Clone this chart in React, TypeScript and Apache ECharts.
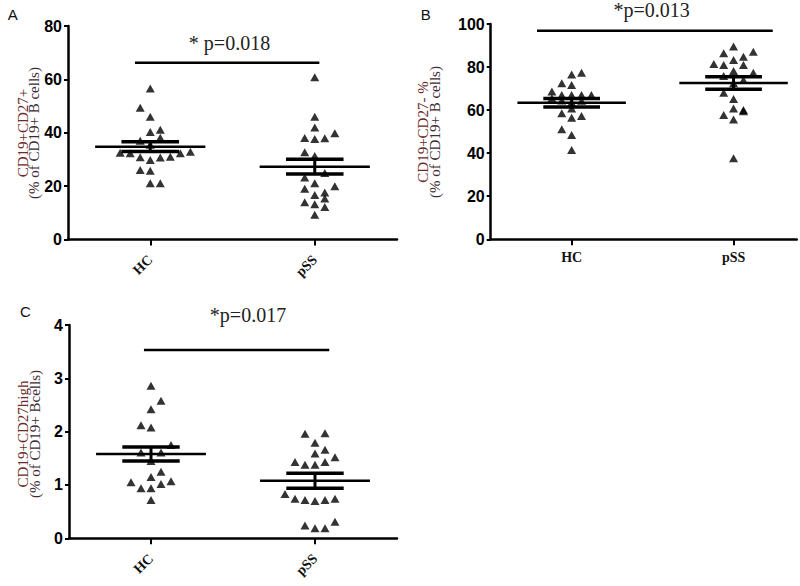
import React, { useEffect, useRef } from "react";
import * as echarts from "echarts";

// ---------- data ----------
const GROUPS = ["HC", "pSS"];

// [column index of the dot (horizontal jitter step), value]
const A_HC: [number, number][] = [
  [0, 56.6], [-1, 49.4], [0, 46.0], [0, 40.3], [1, 41.1], [1, 38.1], [-1, 37.0], [0, 35.5],
  [-3, 32.5], [-2, 32.3], [-1, 30.8], [0, 29.8], [1, 30.7], [2, 31.0], [3, 32.3], [4, 32.9],
  [-1, 26.0], [0, 25.8], [0, 21.1], [1, 21.1],
];
const A_PSS: [number, number][] = [
  [0, 60.8], [0, 46.0], [0, 42.0], [-1, 38.0], [0, 37.7], [1, 37.9], [2, 39.8], [-1, 32.7],
  [0, 31.3], [1, 24.9], [-1, 23.2], [0, 21.1], [2, 20.0], [-1, 19.0], [0, 16.7], [1, 17.6],
  [1, 15.4], [-1, 14.0], [0, 13.2], [1, 12.2], [0, 9.3],
];
const B_HC: [number, number][] = [
  [1, 77.4], [0, 76.6], [-1, 72.5], [0, 71.7], [-2, 68.6], [-1, 67.0], [0, 67.0], [1, 67.0],
  [2, 67.0], [-2, 65.5], [-1, 64.5], [0, 63.5], [1, 64.4], [0, 60.8], [-1, 58.5], [0, 56.5],
  [1, 57.3], [-1, 51.1], [0, 48.4], [0, 41.5],
];
const B_PSS: [number, number][] = [
  [0, 89.5], [2, 87.1], [-1, 86.4], [1, 84.8], [0, 83.3], [-2, 81.4], [-1, 81.0], [1, 81.0],
  [0, 78.2], [2, 77.4], [-1, 75.8], [1, 74.0], [0, 72.5], [-1, 68.1], [0, 65.2], [0, 60.8],
  [1, 60.1], [1, 59.5], [-1, 57.7], [0, 55.7], [0, 37.6],
];
const C_HC: [number, number][] = [
  [0, 2.86], [1, 2.58], [0, 2.42], [-1, 2.12], [0, 2.08], [2, 1.75], [-1, 1.61], [1, 1.61],
  [0, 1.45], [1, 1.25], [0, 1.15], [-2, 1.05], [2, 1.07], [1, 1.02], [-1, 0.94], [0, 0.94],
  [0, 0.72],
];
const C_PSS: [number, number][] = [
  [-1, 1.96], [1, 1.97], [0, 1.79], [1, 1.66], [0, 1.59], [2, 1.52], [-2, 1.43], [-1, 1.38],
  [0, 1.38], [1, 1.43], [-3, 0.83], [-2, 0.74], [-1, 0.72], [0, 0.70], [1, 0.72], [2, 0.74],
  [-1, 0.24], [0, 0.19], [1, 0.19], [2, 0.31],
];

// [group position, mean, sem]
const A_MEAN: [number, number, number][] = [[1, 34.8, 1.8], [2, 27.3, 2.8]];
const B_MEAN: [number, number, number][] = [[1, 63.4, 2.0], [2, 72.6, 2.9]];
const C_MEAN: [number, number, number][] = [[1, 1.58, 0.13], [2, 1.08, 0.14]];

// significance bar: [x start, x end, y]
const A_SIG: [number, number, number][] = [[0.907, 2.028, 66.2]];
const B_SIG: [number, number, number][] = [[0.786, 2.242, 96.9]];
const C_SIG: [number, number, number][] = [[0.957, 2.087, 3.53]];

const P_TEXTS = ["* p=0.018", "*p=0.013", "*p=0.017"];
const PANEL_LETTERS = ["A", "B", "C"];
const Y_TITLES: [string, string][] = [
  ["CD19+CD27+", "(% of CD19+ B cells)"],
  ["CD19+CD27- %", "(% of CD19+ B cells)"],
  ["CD19+CD27high", "(% of CD19+ Bcells)"],
];
const Y_TICKS_A = [0, 20, 40, 60, 80];
const Y_TICKS_B = [0, 20, 40, 60, 80, 100];
const Y_TICKS_C = [0, 1, 2, 3, 4];

// ---------- layout ----------
const JITTER = 0.061;
const MEAN_HALF = 0.335;
const SEM_HALF = 0.175;

const SERIF = '"Liberation Serif", "Times New Roman", serif';
const SANS = '"Liberation Sans", Arial, sans-serif';

export default function App() {
  const ref = useRef<HTMLDivElement>(null);

  useEffect(() => {
    if (!ref.current) return;
    const chart = echarts.init(ref.current, undefined, { renderer: "svg" });

    const grids = [
      { left: 68, top: 26, width: 329, height: 213.5 },
      { left: 490.7, top: 24, width: 306, height: 215.3 },
      { left: 69, top: 325, width: 328, height: 213.3 },
    ];
    const xMax = [2.5, 2.39, 2.5];
    const yTicks = [Y_TICKS_A, Y_TICKS_B, Y_TICKS_C];
    const points = [
      [A_HC, A_PSS],
      [B_HC, B_PSS],
      [C_HC, C_PSS],
    ];
    const means = [A_MEAN, B_MEAN, C_MEAN];
    const sigs = [A_SIG, B_SIG, C_SIG];

    const xAxis = grids.map((_, i) => ({
      gridIndex: i,
      type: "value",
      min: 0.5,
      max: xMax[i],
      axisLine: { show: true, onZero: false, lineStyle: { color: "#000", width: 2.5 } },
      axisTick: {
        show: true,
        customValues: [1, 2],
        length: 6,
        lineStyle: { color: "#000", width: 2 },
      },
      axisLabel: {
        customValues: [1, 2],
        formatter: (v: number) => GROUPS[Math.round(v) - 1] ?? "",
        rotate: i === 1 ? 0 : 45,
        margin: i === 1 ? 11 : 18,
        fontFamily: SERIF,
        fontWeight: "bold",
        fontSize: 14,
        color: "#111",
      },
      splitLine: { show: false },
    }));

    const yAxis = grids.map((_, i) => {
      const t = yTicks[i];
      return {
        gridIndex: i,
        type: "value",
        min: t[0],
        max: t[t.length - 1],
        interval: t[1] - t[0],
        axisLine: { show: true, onZero: false, lineStyle: { color: "#000", width: 2.5 } },
        axisTick: { show: true, length: 4, lineStyle: { color: "#000", width: 2 } },
        axisLabel: {
          margin: 6,
          fontFamily: SANS,
          fontWeight: "bold",
          fontSize: 16,
          color: "#000",
        },
        splitLine: { show: false },
      };
    });

    const series: any[] = [];
    points.forEach((grp, i) => {
      grp.forEach((pts, g) => {
        series.push({
          type: "scatter",
          xAxisIndex: i,
          yAxisIndex: i,
          symbol: "triangle",
          symbolSize: [9, 8],
          itemStyle: { color: "#000" },
          data: pts.map(([col, v]) => [g + 1 + col * JITTER, v]),
          z: 2,
        });
      });
      series.push({
        type: "custom",
        xAxisIndex: i,
        yAxisIndex: i,
        encode: { x: 0, y: 1 },
        z: 3,
        data: means[i],
        renderItem: (_p: any, api: any) => {
          const x = api.value(0);
          const m = api.value(1);
          const s = api.value(2);
          const c = (a: number, b: number) => api.coord([a, b]);
          const mk = (a: number[], b: number[], w: number) => ({
            type: "line",
            shape: { x1: a[0], y1: a[1], x2: b[0], y2: b[1] },
            style: { stroke: "#000", lineWidth: w },
          });
          return {
            type: "group",
            children: [
              mk(c(x - MEAN_HALF, m), c(x + MEAN_HALF, m), 2.5),
              mk(c(x - SEM_HALF, m + s), c(x + SEM_HALF, m + s), 3.5),
              mk(c(x - SEM_HALF, m - s), c(x + SEM_HALF, m - s), 3.5),
              mk(c(x, m - s), c(x, m + s), 3),
            ],
          };
        },
      });
      series.push({
        type: "custom",
        xAxisIndex: i,
        yAxisIndex: i,
        encode: { x: [0, 1], y: 2 },
        z: 3,
        data: sigs[i],
        renderItem: (_p: any, api: any) => {
          const a = api.coord([api.value(0), api.value(2)]);
          const b = api.coord([api.value(1), api.value(2)]);
          return {
            type: "line",
            shape: { x1: a[0], y1: a[1], x2: b[0], y2: b[1] },
            style: { stroke: "#000", lineWidth: 2.5 },
          };
        },
      });
    });

    const pPos = [
      [229.5, 43],
      [651.7, 10],
      [248, 315],
    ];
    const letterPos = [
      [12.8, 14.7],
      [425.7, 14.3],
      [25.3, 311.5],
    ];
    const titlePos = [
      [22.5, 33.5, 133],
      [423, 435, 132],
      [23, 34.5, 434],
    ];
    const graphic: any[] = [];
    P_TEXTS.forEach((t, i) => {
      graphic.push({
        type: "text",
        x: pPos[i][0],
        y: pPos[i][1],
        style: {
          text: t,
          fontFamily: SERIF,
          fontSize: 20,
          fill: "#222",
          textAlign: "center",
          textVerticalAlign: "middle",
        },
      });
    });
    PANEL_LETTERS.forEach((t, i) => {
      graphic.push({
        type: "text",
        x: letterPos[i][0],
        y: letterPos[i][1],
        style: {
          text: t,
          fontFamily: SANS,
          fontSize: 15,
          fill: "#111",
          textAlign: "center",
          textVerticalAlign: "middle",
        },
      });
    });
    Y_TITLES.forEach(([l1, l2], i) => {
      const [x1, x2, y] = titlePos[i];
      graphic.push({
        type: "text",
        x: x1,
        y,
        rotation: Math.PI / 2,
        style: {
          text: l1,
          fontFamily: SERIF,
          fontSize: 15,
          fill: "#6a2a2a",
          textAlign: "center",
          textVerticalAlign: "middle",
        },
      });
      graphic.push({
        type: "text",
        x: x2,
        y,
        rotation: Math.PI / 2,
        style: {
          text: l2,
          fontFamily: SERIF,
          fontSize: 15,
          fill: "#3d2a35",
          textAlign: "center",
          textVerticalAlign: "middle",
        },
      });
    });

    chart.setOption({
      animation: false,
      backgroundColor: "#fff",
      grid: grids.map((g) => ({ ...g, containLabel: false, outerBoundsMode: "none" })),
      xAxis,
      yAxis,
      series,
      graphic,
    });

    return () => chart.dispose();
  }, []);

  return (
    <div
      ref={ref}
      style={{ position: "fixed", left: 0, top: 0, width: 800, height: 586 }}
    />
  );
}
